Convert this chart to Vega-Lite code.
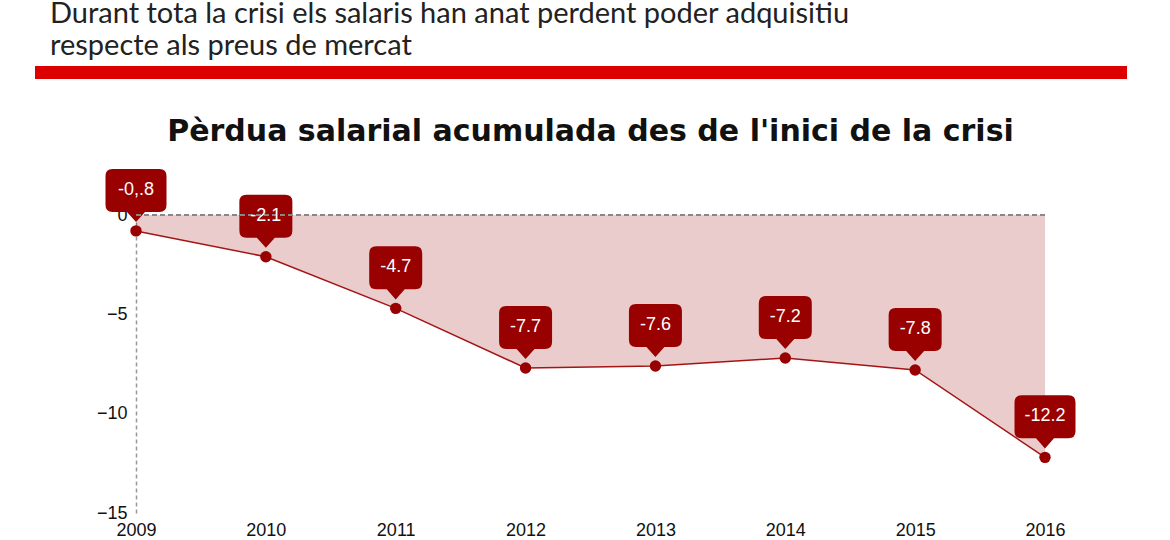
{
  "$schema": "https://vega.github.io/schema/vega-lite/v6.json",
  "background": "white",
  "padding": {"left": 35, "top": 0, "right": 10, "bottom": 0},
  "title": {
    "text": ["Durant tota la crisi els salaris han anat perdent poder adquisitiu", "respecte als preus de mercat"],
    "anchor": "start",
    "frame": "bounds",
    "font": "Lato",
    "fontSize": 29,
    "fontWeight": "normal",
    "color": "#222222",
    "lineHeight": 32,
    "dx": 15,
    "offset": 5
  },
  "datasets": {
    "salaris": [
      {"year": 2009, "value": -0.8, "label": "-0,.8"},
      {"year": 2010, "value": -2.1, "label": "-2.1"},
      {"year": 2011, "value": -4.7, "label": "-4.7"},
      {"year": 2012, "value": -7.7, "label": "-7.7"},
      {"year": 2013, "value": -7.6, "label": "-7.6"},
      {"year": 2014, "value": -7.2, "label": "-7.2"},
      {"year": 2015, "value": -7.8, "label": "-7.8"},
      {"year": 2016, "value": -12.2, "label": "-12.2"}
    ]
  },
  "spacing": 37,
  "vconcat": [
    {
      "width": 909,
      "height": 13,
      "data": {"values": [{}]},
      "mark": {"type": "rect", "color": "#dc0000"},
      "encoding": {
        "x": {"datum": 0, "type": "quantitative", "scale": {"domain": [0, 1], "range": [-101, 991]}, "axis": null},
        "x2": {"datum": 1},
        "y": {"datum": 0, "type": "quantitative", "scale": {"domain": [0, 1]}, "axis": null},
        "y2": {"datum": 1}
      }
    },
    {
      "width": 909,
      "height": 298,
      "data": {"name": "salaris"},
      "title": {
        "text": "Pèrdua salarial acumulada des de l'inici de la crisi",
        "frame": "group",
        "anchor": "middle",
        "font": "DejaVu Sans",
        "fontSize": 30,
        "fontWeight": "bold",
        "color": "#111111",
        "offset": 22
      },
      "encoding": {
        "x": {
          "field": "year",
          "type": "quantitative",
          "title": null,
          "scale": {"domain": [2009, 2016], "nice": false, "zero": false},
          "axis": {
            "values": [2009, 2010, 2011, 2012, 2013, 2014, 2015, 2016],
            "format": "d",
            "grid": false,
            "domain": false,
            "ticks": false,
            "labelFlush": false,
            "labelPadding": 8,
            "labelFont": "Liberation Sans",
            "labelFontSize": 18,
            "labelColor": "#111111"
          }
        },
        "y": {
          "field": "value",
          "type": "quantitative",
          "title": null,
          "scale": {"domain": [-15, 0], "nice": false},
          "axis": {
            "values": [0, -5, -10, -15],
            "grid": false,
            "ticks": false,
            "labelFlush": false,
            "domainColor": "#999999",
            "domainDash": [4, 3],
            "domainWidth": 1.5,
            "labelPadding": 9,
            "labelFont": "Liberation Sans",
            "labelFontSize": 18,
            "labelColor": "#111111"
          }
        }
      },
      "layer": [
        {
          "mark": {"type": "area", "color": "#990000", "opacity": 0.2},
          "encoding": {"y2": {"datum": 0}}
        },
        {
          "mark": {"type": "line", "color": "#a31515", "strokeWidth": 1.5}
        },
        {
          "mark": {"type": "point", "filled": true, "color": "#990000", "opacity": 1, "size": 130}
        },
        {
          "transform": [{"filter": "length(datum.label) <= 4"}],
          "mark": {
            "type": "point",
            "filled": true,
            "color": "#990000",
            "opacity": 1,
            "size": 4096,
            "shape": "M -0.609,-1.938 L 0.609,-1.938 Q 0.828,-1.938 0.828,-1.719 L 0.828,-0.813 Q 0.828,-0.594 0.609,-0.594 L 0.281,-0.594 L 0,-0.281 L -0.281,-0.594 L -0.609,-0.594 Q -0.828,-0.594 -0.828,-0.813 L -0.828,-1.719 Q -0.828,-1.938 -0.609,-1.938 Z"
          }
        },
        {
          "transform": [{"filter": "length(datum.label) > 4"}],
          "mark": {
            "type": "point",
            "filled": true,
            "color": "#990000",
            "opacity": 1,
            "size": 4096,
            "shape": "M -0.734,-1.938 L 0.734,-1.938 Q 0.953,-1.938 0.953,-1.719 L 0.953,-0.813 Q 0.953,-0.594 0.734,-0.594 L 0.281,-0.594 L 0,-0.281 L -0.281,-0.594 L -0.734,-0.594 Q -0.953,-0.594 -0.953,-0.813 L -0.953,-1.719 Q -0.953,-1.938 -0.734,-1.938 Z"
          }
        },
        {
          "mark": {"type": "rule", "color": "#888888", "strokeDash": [5, 3], "strokeWidth": 1.2},
          "encoding": {"x": {"datum": 2009, "type": "quantitative"}, "x2": {"datum": 2016}, "y": {"datum": 0, "type": "quantitative"}}
        },
        {
          "mark": {
            "type": "text",
            "color": "white",
            "font": "Liberation Sans",
            "fontSize": 18,
            "dy": -41,
            "align": "center",
            "baseline": "middle"
          },
          "encoding": {"text": {"field": "label"}}
        }
      ]
    }
  ],
  "config": {"view": {"stroke": null}}
}
